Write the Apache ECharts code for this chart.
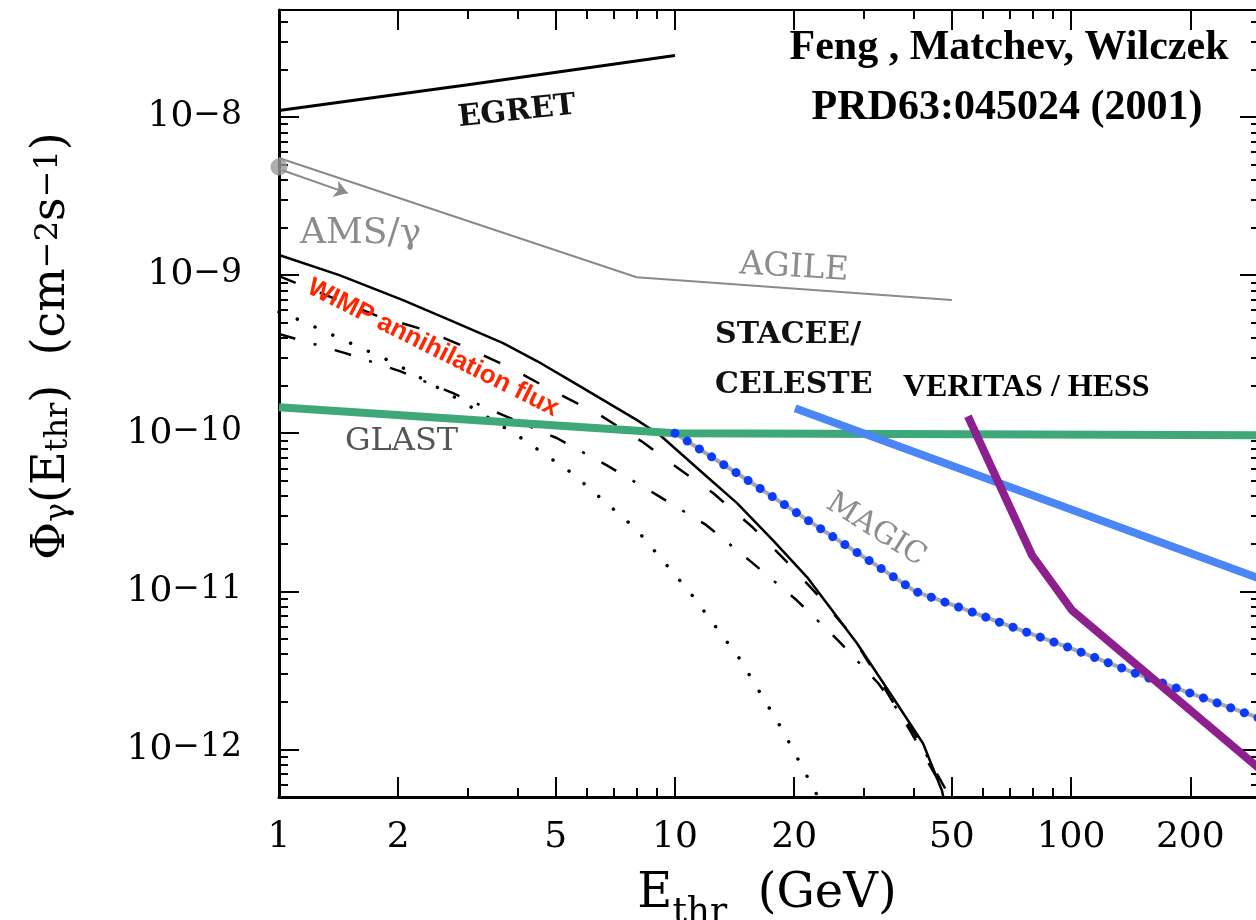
<!DOCTYPE html>
<html>
<head>
<meta charset="utf-8">
<script src="https://cdn.jsdelivr.net/npm/echarts@6/dist/echarts.min.js"></script>
<style>html,body{margin:0;padding:0;background:#fff}#c{width:1256px;height:920px}</style>
</head>
<body>
<div id="c"></div>
<script>
const L = Math.log10;

// ---- axis ranges and ticks ----
const xRange = [1, 300];
const yRange = [5e-13, 4.75e-8];
const xTickLabels = [1, 2, 5, 10, 20, 50, 100, 200];
const xMajorTicks = [2, 5, 10, 20, 50, 100, 200];
const xMinorTicks = [3, 4, 6, 7, 8, 9, 30, 40, 60, 70, 80, 90];
const yTickLabels = [1e-12, 1e-11, 1e-10, 1e-9, 1e-8];
const yMinorTicks = [6e-13, 7e-13, 8e-13, 9e-13,
  2e-12, 3e-12, 4e-12, 5e-12, 6e-12, 7e-12, 8e-12, 9e-12,
  2e-11, 3e-11, 4e-11, 5e-11, 6e-11, 7e-11, 8e-11, 9e-11,
  2e-10, 3e-10, 4e-10, 5e-10, 6e-10, 7e-10, 8e-10, 9e-10,
  2e-9, 3e-9, 4e-9, 5e-9, 6e-9, 7e-9, 8e-9, 9e-9,
  2e-8, 3e-8, 4e-8];

// ---- data (E_thr in GeV, flux in cm^-2 s^-1) ----
const egretE = [1, 3, 10];
const egretFlux = [1.1e-8, 1.6e-8, 2.45e-8];

const amsE = [1, 8, 50];
const amsFlux = [5.5e-9, 9.7e-10, 6.95e-10];
const amsDotE = [1];
const amsDotFlux = [4.83e-9];
const amsArrowE = [1.02, 1.49];
const amsArrowFlux = [4.6e-9, 3.3e-9];

const wimpSolidE = [1, 1.42, 2.056, 2.70, 3.68, 4.48, 5.43, 8.02, 9.17, 11.77, 14.34, 17.68, 21.54, 28.8, 35.5, 42.3, 47.2, 48.1];
const wimpSolidFlux = [1.34e-9, 1.0e-9, 6.95e-10, 5.19e-10, 3.71e-10, 2.86e-10, 2.16e-10, 1.21e-10, 9.7e-11, 5.58e-11, 3.61e-11, 2.10e-11, 1.23e-11, 4.69e-12, 2.13e-12, 1.09e-12, 5.5e-13, 4.4e-13];

const wimpDashE = [1, 1.75, 2.34, 3.0, 3.85, 5.04, 6.35, 8.3, 10.1, 12.5, 15.7, 19.0, 23.2, 27.7, 32.9, 39.2, 48.9, 51];
const wimpDashFlux = [9.86e-10, 5.58e-10, 4.49e-10, 3.45e-10, 2.58e-10, 1.79e-10, 1.34e-10, 8.77e-11, 6.09e-11, 4.17e-11, 2.54e-11, 1.57e-11, 9.16e-12, 5.42e-12, 2.73e-12, 1.32e-12, 4.97e-13, 4.0e-13];

const wimpDashDotE = [1, 1.47, 2.02, 2.75, 3.68, 5.04, 6.73, 9.01, 12.0, 15.6, 20.3, 25.8, 32.6, 40.1, 49.5, 52];
const wimpDashDotFlux = [4.24e-10, 3.21e-10, 2.47e-10, 1.79e-10, 1.30e-10, 9.29e-11, 6.26e-11, 4.06e-11, 2.62e-11, 1.53e-11, 8.77e-12, 4.90e-12, 2.62e-12, 1.28e-12, 4.97e-13, 4.0e-13];

const wimpDotE = [1, 1.13, 1.4, 1.96, 2.86, 4.06, 5.5, 7.93, 10.9, 14.6, 18.7, 23.0, 24];
const wimpDotFlux = [5.83e-10, 5.19e-10, 4.06e-10, 2.77e-10, 1.62e-10, 9.44e-11, 5.58e-11, 2.51e-11, 9.86e-12, 3.71e-12, 1.32e-12, 4.97e-13, 4.1e-13];

const glastE = [1, 10, 300];
const glastFlux = [1.46e-10, 1.0e-10, 9.7e-11];

const staceeE = [20.1, 300];
const staceeFlux = [1.44e-10, 1.2e-11];

const veritasE = [54.9, 79.7, 100.6, 300];
const veritasFlux = [1.28e-10, 1.69e-11, 7.58e-12, 7.5e-13];

const magicE = [10.0, 15.0, 22.4, 31.1, 40.4, 53.1, 69.3, 100, 143.5, 207, 300];
const magicFlux = [1.0e-10, 5.19e-11, 2.66e-11, 1.55e-11, 1.0e-11, 7.8e-12, 6.09e-12, 4.36e-12, 3.07e-12, 2.2e-12, 1.57e-12];

// ---- helpers ----
const pts = (xs, ys) => xs.map((x, i) => [L(x), L(ys[i])]);
const SERIF = 'DejaVu Serif';

function line(name, xs, ys, lineStyle, z, extra) {
  return Object.assign({
    type: 'line', name: name, data: pts(xs, ys),
    xAxisIndex: 0, yAxisIndex: 0,
    symbol: 'none', showSymbol: false, silent: true, z: z,
    smooth: false,
    lineStyle: lineStyle
  }, extra || {});
}

function xAx(pos, ticks, len, lineOpt, label) {
  return {
    type: 'value', min: L(xRange[0]), max: L(xRange[1]), position: pos,
    splitLine: { show: false },
    axisLine: Object.assign({ onZero: false }, lineOpt),
    axisTick: { show: true, inside: true, length: len, lineStyle: { color: '#000', width: 2 }, customValues: ticks.map(L) },
    axisLabel: label || { show: false }
  };
}
function yAx(pos, ticks, len, lineOpt, label) {
  return {
    type: 'value', min: L(yRange[0]), max: L(yRange[1]), position: pos,
    splitLine: { show: false },
    axisLine: Object.assign({ onZero: false }, lineOpt),
    axisTick: { show: true, inside: true, length: len, lineStyle: { color: '#000', width: 2 }, customValues: ticks.map(L) },
    axisLabel: label || { show: false }
  };
}

const chart = echarts.init(document.getElementById('c'));
const option = {
  animation: false,
  backgroundColor: '#fff',
  grid: { left: 279, top: 10, width: 981, height: 787, containLabel: false, outerBoundsMode: 'none' },
  xAxis: [
    xAx('bottom', xMajorTicks, 20, { show: true, lineStyle: { color: '#000', width: 3 } }, {
      show: true, customValues: xTickLabels.map(L), margin: 23,
      formatter: v => String(Math.round(Math.pow(10, v))),
      color: '#000', fontFamily: SERIF, fontSize: 36, lineHeight: 36
    }),
    xAx('bottom', xMinorTicks, 9, { show: false }),
    xAx('top', xMajorTicks, 20, { show: true, lineStyle: { color: '#000', width: 2 } }),
    xAx('top', xMinorTicks, 9, { show: false })
  ],
  yAxis: [
    yAx('left', yTickLabels, 20, { show: true, lineStyle: { color: '#000', width: 3 } }, {
      show: true, customValues: yTickLabels.map(L), margin: 37,
      formatter: v => '{b|10}{s|\u2212' + Math.round(-v) + '}',
      rich: {
        b: { fontFamily: SERIF, fontSize: 36, lineHeight: 36, verticalAlign: 'bottom', color: '#000' },
        s: { fontFamily: SERIF, fontSize: 33, lineHeight: 30, padding: [0, 0, 20, 0], verticalAlign: 'top', color: '#000' }
      }
    }),
    yAx('left', yMinorTicks, 9, { show: false }),
    yAx('right', yTickLabels, 20, { show: true, lineStyle: { color: '#000', width: 3 } }),
    yAx('right', yMinorTicks, 9, { show: false })
  ],
  series: [
    line('EGRET', egretE, egretFlux, { color: '#000', width: 3 }, 2),
    line('AMS/AGILE', amsE, amsFlux, { color: '#8a8a8a', width: 2 }, 2, {
      markLine: {
        silent: true, animation: false, symbol: ['none', 'arrow'], symbolSize: 13,
        label: { show: false }, lineStyle: { color: '#8a8a8a', width: 2, type: 'solid' },
        data: [[{ coord: [L(amsArrowE[0]), L(amsArrowFlux[0])] }, { coord: [L(amsArrowE[1]), L(amsArrowFlux[1])] }]]
      }
    }),
    { type: 'scatter', name: 'AMS point', data: pts(amsDotE, amsDotFlux), symbolSize: 17, clip: false, silent: true, z: 3,
      itemStyle: { color: '#9a9a9a' } },
    line('WIMP solid', wimpSolidE, wimpSolidFlux, { color: '#000', width: 2.5 }, 2),
    line('WIMP dashed', wimpDashE, wimpDashFlux, { color: '#000', width: 2.5, type: [18, 26] }, 2),
    line('WIMP dash-dot', wimpDashDotE, wimpDashDotFlux, { color: '#000', width: 2.5, type: [17, 19, 3, 19] }, 2),
    line('WIMP dotted', wimpDotE, wimpDotFlux, { color: '#000', width: 3.5, type: [0.01, 19.5], cap: 'round' }, 2),
    line('MAGIC', magicE, magicFlux, { color: '#a8a8a8', width: 4 }, 3),
    line('GLAST', glastE, glastFlux, { color: '#3ea878', width: 8 }, 4),
    line('MAGIC dots', magicE, magicFlux, { color: '#0a3bff', width: 9, type: [0.01, 14.5], cap: 'round' }, 5),
    line('STACEE/CELESTE', staceeE, staceeFlux, { color: '#4a86f5', width: 8 }, 6),
    line('VERITAS/HESS', veritasE, veritasFlux, { color: '#8e1f8f', width: 8 }, 7)
  ],
  graphic: [
    { type: 'text', x: 1009, y: 48, z: 100, style: { text: 'Feng , Matchev, Wilczek', font: 'bold 42px "Liberation Serif"', fill: '#000', align: 'center', verticalAlign: 'middle' } },
    { type: 'text', x: 1007, y: 108, z: 100, style: { text: 'PRD63:045024 (2001)', font: 'bold 42px "Liberation Serif"', fill: '#000', align: 'center', verticalAlign: 'middle' } },
    { type: 'text', x: 903, y: 388, z: 100, style: { text: 'VERITAS / HESS', font: 'bold 32px "Liberation Serif"', fill: '#000', align: 'left', verticalAlign: 'middle' } },
    { type: 'text', x: 715, y: 335, z: 100, style: { text: 'STACEE/', font: 'bold 30px "DejaVu Serif"', fill: '#111', align: 'left', verticalAlign: 'middle' } },
    { type: 'text', x: 715, y: 385, z: 100, style: { text: 'CELESTE', font: 'bold 30px "DejaVu Serif"', fill: '#111', align: 'left', verticalAlign: 'middle' } },
    { type: 'text', x: 517, y: 112, rotation: 0.108, z: 100, style: { text: 'EGRET', font: 'bold 30px "DejaVu Serif"', fill: '#111', align: 'center', verticalAlign: 'middle' } },
    { type: 'text', x: 300, y: 234, z: 100, style: { text: 'AMS/\u03b3', font: '36px "DejaVu Serif"', fill: '#8c8c8c', align: 'left', verticalAlign: 'middle' } },
    { type: 'text', x: 794, y: 268, rotation: -0.06, z: 100, style: { text: 'AGILE', font: '33px "DejaVu Serif"', fill: '#8c8c8c', align: 'center', verticalAlign: 'middle' } },
    { type: 'text', x: 345, y: 442, z: 100, style: { text: 'GLAST', font: '32px "DejaVu Serif"', fill: '#555', align: 'left', verticalAlign: 'middle' } },
    { type: 'text', x: 876, y: 530, rotation: -0.56, z: 100, style: { text: 'MAGIC', font: '30px "DejaVu Serif"', fill: '#8c8c8c', align: 'center', verticalAlign: 'middle' } },
    { type: 'text', x: 433, y: 348, rotation: -0.465, z: 100, style: { text: 'WIMP annihilation flux', font: 'bold 26px "Liberation Sans"', fill: '#ff2600', align: 'center', verticalAlign: 'middle' } },
    { type: 'text', x: 767, y: 895, z: 100, style: {
        text: '{m|E}{d|thr}{m|  (GeV)}', align: 'center', verticalAlign: 'middle',
        rich: {
          m: { fontFamily: SERIF, fontSize: 48, lineHeight: 48, verticalAlign: 'top', fill: '#000' },
          d: { fontFamily: SERIF, fontSize: 36, lineHeight: 36, padding: [24, 0, 0, 0], verticalAlign: 'top', fill: '#000' }
        } } },
    { type: 'text', x: 54, y: 346, rotation: Math.PI / 2, z: 100, style: {
        text: '{m|\u03a6}{d|\u03b3}{m|(E}{d|thr}{m|)  (cm}{u|\u22122}{m|s}{u|\u22121}{m|)}', align: 'center', verticalAlign: 'middle',
        rich: {
          m: { fontFamily: SERIF, fontSize: 46, lineHeight: 42, verticalAlign: 'bottom', fill: '#000' },
          d: { fontFamily: SERIF, fontSize: 32, lineHeight: 16, verticalAlign: 'bottom', fill: '#000' },
          u: { fontFamily: SERIF, fontSize: 32, lineHeight: 30, padding: [0, 0, 40, 0], verticalAlign: 'top', fill: '#000' }
        } } }
  ]
};
chart.setOption(option);
</script>
</body>
</html>
